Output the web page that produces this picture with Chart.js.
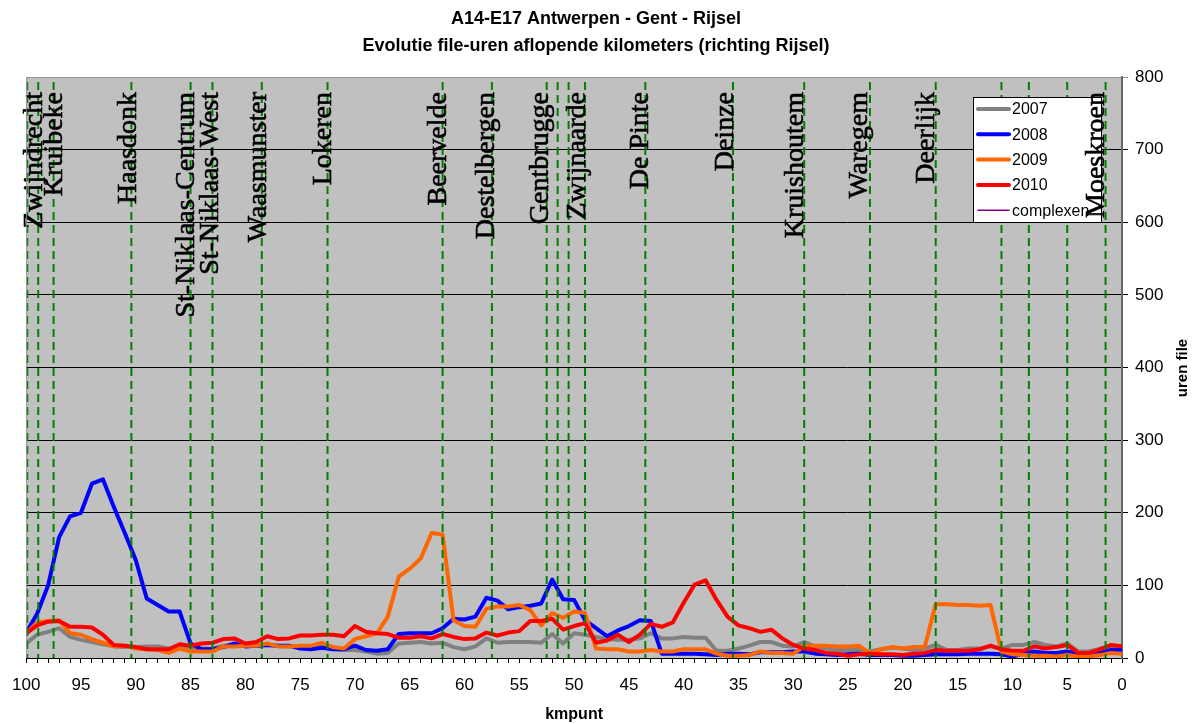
<!DOCTYPE html>
<html lang="nl">
<head>
  <meta charset="UTF-8">
  <title>A14-E17 Antwerpen - Gent - Rijsel</title>
  <style>
    body {
      margin: 0;
      background: #ffffff;
    }
    canvas {
      display: block;
    }
  </style>
  <script src="https://cdn.jsdelivr.net/npm/chart.js"></script>
</head>
<body>

  <canvas id="fileChart" width="1192" height="724"></canvas>

  <script>
    // kilometerpunten, van 100 naar 0
    var kmpunten = [];
    for (var k = 100; k >= 0; k--) {
      kmpunten.push(k);
    }

    // file-uren per kilometer (km 100 -> km 0)
    var uren2007 = [
      20, 32, 36, 41, 29, 25, 22, 19, 16, 15, 15, 16, 16, 13, 16, 13, 13, 13, 17, 18, 17,
      17, 18, 17, 16, 15, 15, 15, 12, 11, 11, 9, 6, 7, 20, 21, 22, 20, 21, 15, 12,
      16, 27, 21, 22, 22, 22, 21, 33, 20, 34, 32, 29, 26, 25, 25, 27, 34, 27, 27, 29,
      28, 28, 10, 10, 13, 17, 22, 22, 17, 16, 22, 16, 13, 11, 11, 11, 9, 12, 14, 13,
      11, 13, 18, 11, 11, 13, 13, 16, 13, 18, 18, 22, 18, 16, 20, 9, 9, 13, 16, 16
    ];
    var uren2008 = [
      35, 61, 100, 166, 195, 200, 240, 246, 208, 172, 135, 82, 73, 64, 64, 20, 12, 12, 15, 20, 16,
      17, 18, 17, 17, 13, 12, 14, 12, 12, 17, 11, 10, 12, 33, 34, 34, 34, 41, 54, 53,
      57, 83, 79, 67, 70, 72, 75, 108, 81, 80, 52, 41, 30, 38, 44, 52, 51, 6, 6, 6,
      6, 5, 4, 6, 6, 5, 8, 8, 8, 9, 9, 6, 5, 4, 5, 6, 4, 4, 4, 3,
      3, 4, 5, 5, 5, 6, 6, 6, 5, 2, 6, 9, 7, 7, 9, 6, 6, 7, 11, 11
    ];
    var uren2009 = [
      34, 49, 51, 52, 34, 32, 26, 21, 16, 17, 13, 12, 11, 7, 13, 9, 9, 9, 16, 16, 17,
      17, 20, 16, 16, 17, 17, 21, 15, 13, 26, 30, 34, 57, 112, 123, 137, 172, 170, 52, 44,
      43, 68, 71, 71, 73, 66, 45, 62, 55, 64, 62, 13, 12, 12, 9, 9, 11, 9, 9, 12,
      12, 12, 6, 3, 3, 4, 9, 7, 7, 6, 16, 17, 17, 16, 16, 17, 6, 12, 15, 13,
      15, 15, 74, 74, 73, 73, 72, 73, 9, 5, 4, 3, 3, 2, 4, 2, 2, 4, 7, 6
    ];
    var uren2010 = [
      34, 45, 50, 51, 43, 43, 42, 32, 18, 17, 15, 12, 12, 12, 19, 17, 20, 21, 26, 27, 20,
      22, 30, 26, 27, 31, 31, 32, 32, 30, 44, 36, 34, 33, 28, 28, 30, 27, 33, 29, 26,
      27, 35, 31, 35, 37, 51, 51, 54, 39, 44, 48, 21, 24, 32, 22, 32, 47, 43, 49, 76,
      101, 107, 80, 57, 45, 41, 36, 39, 27, 18, 13, 11, 7, 6, 3, 5, 6, 5, 5, 4,
      6, 7, 11, 10, 10, 10, 12, 17, 12, 10, 10, 16, 13, 15, 18, 7, 7, 12, 18, 16
    ];

    // complexen (op- en afritten) en hun namen
    var complexKm = [99.9, 98.9, 97.5, 90.4, 85.0, 83.0, 78.5, 72.5, 62.0, 57.5, 52.5, 51.5,
      50.5, 49.0, 43.5, 35.5, 29.0, 23.0, 17.0, 11.0, 8.5, 5.0, 1.5];
    var complexNamen = ["Zwijndrecht", "Kruibeke", "Haasdonk", "St-Niklaas-Centrum", "St-Niklaas-West",
      "Waasmunster", "Lokeren", "Beervelde", "Destelbergen", "Gentbrugge", "Zwijnaarde", "De Pinte",
      "Deinze", "Kruishoutem", "Waregem", "Deerlijk", "Moeskroen"];
    var naamKm = [98.6, 96.7, 90.0, 84.7, 82.5, 78.1, 72.2, 61.7, 57.3, 52.4, 49.0, 43.3,
      35.5, 29.1, 23.3, 17.2, 1.6];

    var jaarLabels = ["2007", "2008", "2009", "2010"];
    var jaarKleuren = ["#808080", "#0000ff", "#ff6600", "#ff0000"];
    var yTicks = [0, 100, 200, 300, 400, 500, 600, 700, 800];

    function maakPunten(waarden) {
      return kmpunten.map(function (km, i) {
        return { x: km, y: waarden[i] };
      });
    }

    // verticale lijnen per complex, onderbroken met null
    var complexPunten = [];
    complexKm.forEach(function (km) {
      complexPunten.push({ x: km, y: 800 }, { x: km, y: 0 }, { x: km, y: null });
    });

    var reeksen = [uren2007, uren2008, uren2009, uren2010];
    var datasets = reeksen.map(function (reeks, i) {
      return {
        label: jaarLabels[i],
        data: maakPunten(reeks),
        borderColor: jaarKleuren[i],
        borderWidth: 4,
        pointRadius: 0,
        tension: 0,
        borderJoinStyle: "round",
        borderCapStyle: "round",
        yAxisID: "y",
        order: 4 - i + 1
      };
    });
    datasets.push({
      label: "complexen",
      data: complexPunten,
      borderColor: "#008000",
      borderWidth: 2,
      borderDash: [8, 5],
      borderDashOffset: 8,
      pointRadius: 0,
      spanGaps: false,
      yAxisID: "y",
      order: 0
    });

    // grijze achtergrond van het grafiekvlak
    var achtergrond = {
      id: "achtergrond",
      beforeDraw: function (chart) {
        var a = chart.chartArea;
        var ctx = chart.ctx;
        ctx.save();
        ctx.fillStyle = "#c0c0c0";
        ctx.fillRect(a.left, a.top, a.right - a.left, a.bottom - a.top);
        ctx.restore();
      },
      afterDraw: function (chart) {
        var a = chart.chartArea;
        var ctx = chart.ctx;
        ctx.save();
        ctx.strokeStyle = "#909090";
        ctx.lineWidth = 1;
        ctx.beginPath();
        ctx.moveTo(a.left + 0.5, a.bottom);
        ctx.lineTo(a.left + 0.5, a.top + 0.5);
        ctx.lineTo(a.right, a.top + 0.5);
        ctx.stroke();

        // as-titel rechts
        ctx.fillStyle = "#000";
        ctx.font = "bold 15px Arial";
        ctx.textAlign = "center";
        ctx.textBaseline = "middle";
        ctx.translate(1183, 368);
        ctx.rotate(-Math.PI / 2);
        ctx.fillText("uren file", 0, 0);
        ctx.restore();
      }
    };

    // legende en namen van de complexen
    var annotaties = {
      id: "annotaties",
      afterDatasetsDraw: function (chart) {
        var ctx = chart.ctx;
        var x = chart.scales.x;
        var a = chart.chartArea;

        ctx.save();
        // legende
        var lx = 973, ly = 97, lw = 128, lh = 125;
        ctx.fillStyle = "#ffffff";
        ctx.fillRect(lx, ly, lw, lh);
        ctx.strokeStyle = "#000";
        ctx.lineWidth = 1;
        ctx.strokeRect(lx + 0.5, ly + 0.5, lw, lh);
        var namen = jaarLabels.concat(["complexen"]);
        var kleuren = jaarKleuren.concat(["#800080"]);
        ctx.font = "16px Arial";
        ctx.textBaseline = "middle";
        ctx.textAlign = "left";
        namen.forEach(function (naam, i) {
          var yy = ly + 12 + i * 25.3;
          ctx.strokeStyle = kleuren[i];
          ctx.lineWidth = i < 4 ? 4 : 1.5;
          ctx.lineCap = "round";
          ctx.beginPath();
          ctx.moveTo(lx + 5, yy);
          ctx.lineTo(lx + 36, yy);
          ctx.stroke();
          ctx.fillStyle = "#000";
          ctx.fillText(naam, lx + 39, yy + 1);
        });

        // namen, verticaal
        ctx.font = "28px 'Liberation Serif', 'Times New Roman', serif";
        ctx.fillStyle = "#000";
        ctx.strokeStyle = "#000";
        ctx.lineWidth = 0.6;
        ctx.lineCap = "butt";
        ctx.textAlign = "right";
        ctx.textBaseline = "alphabetic";
        complexNamen.forEach(function (naam, i) {
          ctx.save();
          ctx.translate(x.getPixelForValue(naamKm[i]), a.top + 15);
          ctx.rotate(-Math.PI / 2);
          ctx.fillText(naam, 0, 0);
          ctx.strokeText(naam, 0, 0);
          ctx.restore();
        });
        ctx.restore();
      }
    };

    var ctx = document.getElementById("fileChart").getContext("2d");
    var fileChart = new Chart(ctx, {
      type: "line",
      data: { datasets: datasets },
      plugins: [achtergrond, annotaties],
      options: {
        responsive: false,
        animation: false,
        events: [],
        layout: { padding: 0 },
        plugins: {
          legend: { display: false },
          tooltip: { enabled: false },
          title: {
            display: true,
            text: ["A14-E17 Antwerpen - Gent - Rijsel", "Evolutie file-uren aflopende kilometers (richting Rijsel)"],
            color: "#000",
            font: { family: "Arial", size: 18, weight: "bold", lineHeight: 1.5 },
            padding: { top: 6, bottom: 17 }
          }
        },
        scales: {
          x: {
            type: "linear",
            reverse: true,
            min: 0,
            max: 100,
            afterFit: function (s) { s.height = 66; },
            border: { color: "#000", width: 1 },
            grid: { drawOnChartArea: false, tickLength: 5, color: "#000" },
            ticks: {
              stepSize: 1,
              autoSkip: false,
              maxRotation: 0,
              padding: 12,
              color: "#000",
              font: { family: "Arial", size: 17 },
              callback: function (v) { return v % 5 === 0 ? v : ""; }
            },
            title: {
              display: true,
              text: "kmpunt",
              color: "#000",
              font: { family: "Arial", size: 16, weight: "bold" },
              padding: { top: 0, bottom: 0 }
            }
          },
          // lege as links, houdt ruimte vrij naast het grafiekvlak
          links: {
            position: "left",
            min: 0,
            max: 800,
            afterFit: function (s) { s.width = 25; },
            grid: { display: false },
            border: { display: false },
            ticks: { display: false }
          },
          y: {
            position: "right",
            min: 0,
            max: 800,
            afterFit: function (s) { s.width = 70; },
            afterBuildTicks: function (s) {
              s.ticks = yTicks.map(function (v) { return { value: v }; });
            },
            border: { color: "#666", width: 2 },
            grid: {
              tickLength: 6,
              color: function (c) { return c.tick && c.tick.value === 800 ? "#909090" : "#000"; }
            },
            ticks: {
              padding: 7,
              color: "#000",
              font: { family: "Arial", size: 17 }
            }
          }
        }
      }
    });
  </script>

</body>
</html>
